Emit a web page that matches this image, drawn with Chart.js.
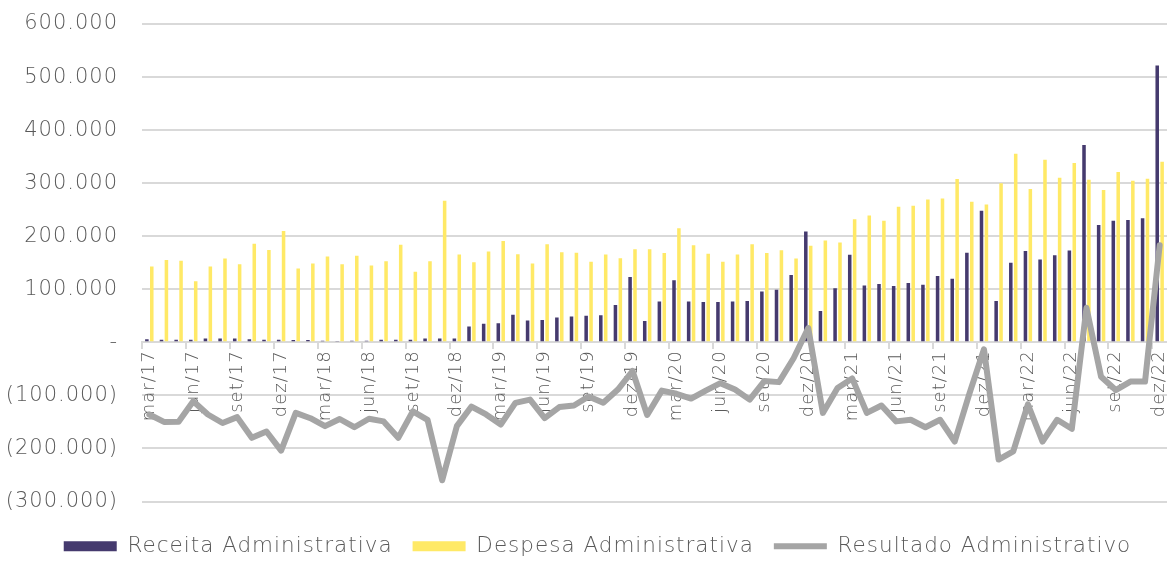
<!DOCTYPE html>
<html lang="pt-BR">
<head>
<meta charset="utf-8">
<title>Resultado Administrativo</title>
<script src="https://cdn.jsdelivr.net/npm/chart.js@4/dist/chart.umd.min.js"></script>
<style>
  html, body { margin: 0; padding: 0; background: #fff; }
  #grafico { display: block; }
</style>
</head>
<body>
<canvas id="grafico" width="1167" height="563"></canvas>
<script>
const meses = [
  'mar/17','abr/17','mai/17','jun/17','jul/17','ago/17','set/17','out/17','nov/17','dez/17',
  'jan/18','fev/18','mar/18','abr/18','mai/18','jun/18','jul/18','ago/18','set/18','out/18','nov/18','dez/18',
  'jan/19','fev/19','mar/19','abr/19','mai/19','jun/19','jul/19','ago/19','set/19','out/19','nov/19','dez/19',
  'jan/20','fev/20','mar/20','abr/20','mai/20','jun/20','jul/20','ago/20','set/20','out/20','nov/20','dez/20',
  'jan/21','fev/21','mar/21','abr/21','mai/21','jun/21','jul/21','ago/21','set/21','out/21','nov/21','dez/21',
  'jan/22','fev/22','mar/22','abr/22','mai/22','jun/22','jul/22','ago/22','set/22','out/22','nov/22','dez/22'
];

const receita = [
  6000, 5000, 5000, 5000, 7000, 7000, 7000, 6000, 5000, 5000,
  4500, 4500, 3000, 1500, 3000, 3000, 5000, 5000, 5000, 7000, 7000, 7000,
  30000, 35000, 36000, 52000, 41000, 42000, 47000, 48500, 50000, 51000, 70500, 123000,
  40000, 77000, 117000, 77000, 76000, 76000, 77000, 78000, 96000, 99000, 127000, 209000,
  59000, 102000, 165000, 107000, 110000, 106000, 112000, 108500, 125000, 120000, 169000, 248000,
  78000, 150000, 172000, 156000, 164000, 173000, 372000, 221000, 229000, 230500, 234000, 522000
];

const despesa = [
  143000, 155000, 154000, 115000, 143000, 158000, 147000, 186000, 174000, 210000,
  139000, 148500, 162000, 147000, 163000, 145000, 153000, 184000, 133000, 153000, 267000, 165500,
  151000, 171000, 191000, 166000, 148500, 185000, 170000, 169000, 152000, 165500, 158500, 175500,
  175500, 168500, 215000, 183000, 167000, 152000, 165500, 185000, 168500, 173500, 158000, 182000,
  192000, 188000, 232000, 239000, 229000, 255500, 257500, 269000, 271000, 308000, 265000, 260000,
  300000, 355500, 289000, 344000, 310000, 338000, 306500, 287000, 321000, 304500, 308500, 340500
];

const resultado = [
  -136000, -150000, -149500, -111000, -136000, -152000, -141000, -180000, -168000, -204000,
  -133000, -143000, -158000, -144500, -160000, -144000, -149000, -180000, -130000, -146000, -260000, -158000,
  -121000, -136000, -155000, -114000, -108000, -143000, -122000, -119000, -102000, -114000, -89000, -54000,
  -137000, -91000, -97000, -106000, -91000, -77000, -89000, -108000, -73000, -75000, -30000, 27000,
  -133000, -86000, -68000, -133000, -119000, -149000, -146000, -160000, -146000, -187000, -97000, -13000,
  -221000, -205500, -117000, -187000, -146000, -163000, 65000, -65000, -90000, -74000, -74000, 183000
];

const cinzaTexto = '#595959';
const cinzaGrade = '#d9d9d9';

function formatar(v) {
  if (v === 0) return '-';
  const s = Math.abs(v).toString().replace(/\B(?=(\d{3})+(?!\d))/g, '.');
  return v < 0 ? '(' + s + ')' : s;
}

// espaçamento entre letras para imitar a fonte larga do original
const espacamento = {
  id: 'espacamento',
  beforeUpdate(chart) { chart.ctx.letterSpacing = '1px'; },
  beforeDraw(chart) { chart.ctx.letterSpacing = '1px'; },
  afterLayout(chart) {
    // legenda do original fica um pouco à direita do centro
    if (chart.legend) { chart.legend.left += 14; chart.legend.right += 14; }
  }
};

Chart.defaults.font.family = "'DejaVu Sans', sans-serif";
Chart.defaults.font.weight = 200;
Chart.defaults.color = cinzaTexto;

const ctx = document.getElementById('grafico');
new Chart(ctx, {
  type: 'bar',
  data: {
    labels: meses,
    datasets: [
      {
        label: 'Receita Administrativa',
        data: receita,
        backgroundColor: '#453a6e',
        borderWidth: 0,
        pointStyle: 'rect',
        order: 1
      },
      {
        label: 'Despesa Administrativa',
        data: despesa,
        backgroundColor: '#ffe966',
        borderWidth: 0,
        pointStyle: 'rect',
        order: 1
      },
      {
        type: 'line',
        label: 'Resultado Administrativo',
        data: resultado,
        borderColor: '#a5a5a5',
        backgroundColor: '#a5a5a5',
        borderWidth: 6,
        borderJoinStyle: 'round',
        borderCapStyle: 'round',
        pointRadius: 0,
        pointStyle: 'line',
        tension: 0,
        order: 0
      }
    ]
  },
  options: {
    responsive: false,
    devicePixelRatio: 1,
    animation: false,
    categoryPercentage: 0.67,
    barPercentage: 0.72,
    layout: { padding: { top: 24, left: 0, right: 0, bottom: -4 } },
    plugins: {
      tooltip: { enabled: false },
      legend: {
        position: 'bottom',
        labels: {
          usePointStyle: true,
          pointStyleWidth: 53,
          boxHeight: 10,
          padding: 20,
          font: { size: 21.5 },
          color: cinzaTexto,
          sort: (a, b) => a.datasetIndex - b.datasetIndex
        }
      }
    },
    scales: {
      x: {
        position: { y: 0 },
        grid: {
          drawOnChartArea: false,
          drawTicks: true,
          tickLength: 6,
          lineWidth: 2,
          color: c => (c.index % 3 === 0 ? cinzaGrade : 'rgba(0,0,0,0)')
        },
        border: { display: true, color: cinzaGrade, width: 2 },
        ticks: {
          autoSkip: false,
          minRotation: 90,
          maxRotation: 90,
          padding: 2,
          font: { size: 18 },
          callback: (v, i) => (i % 3 === 0 ? meses[i] : '')
        },
        afterFit: s => { s.paddingLeft = 0; s.paddingRight = 0; }
      },
      reserva: {
        type: 'linear',
        axis: 'x',
        position: 'bottom',
        grid: { display: false },
        border: { display: false },
        ticks: { display: false },
        afterFit: s => { s.height = 14; }
      },
      y: {
        min: -300000,
        max: 600000,
        ticks: {
          stepSize: 100000,
          padding: 24,
          font: { size: 21 },
          callback: v => formatar(v)
        },
        grid: { color: cinzaGrade, lineWidth: 2, drawTicks: false },
        border: { display: false },
        afterFit: s => { s.width = 142; s.paddingTop = 12; s.paddingBottom = 12; }
      }
    }
  },
  plugins: [espacamento]
});
</script>
</body>
</html>
